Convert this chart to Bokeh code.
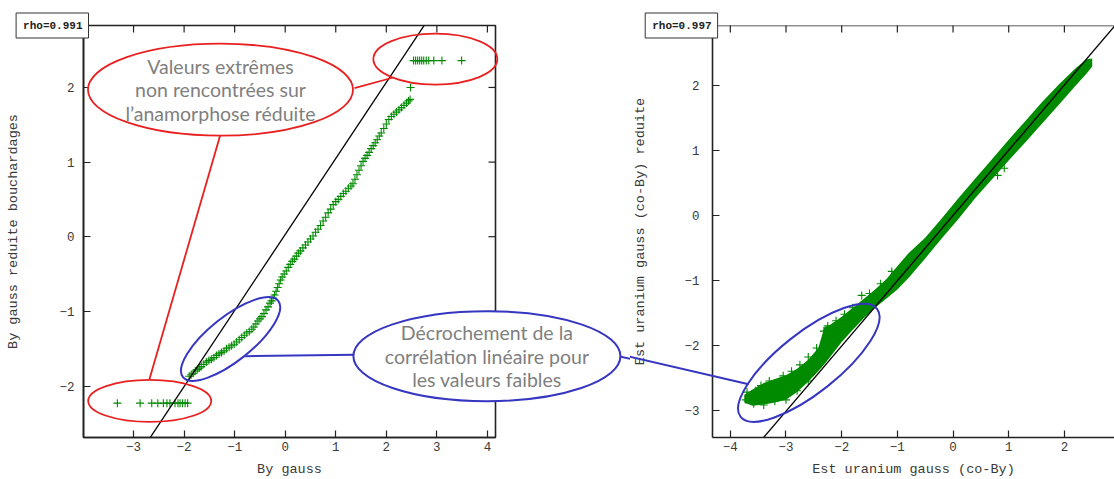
import math
from bokeh.plotting import figure
from bokeh.layouts import row
from bokeh.models import Range1d, FixedTicker, Span
from bokeh.embed import file_html
from bokeh.resources import INLINE
from bokeh.core.properties import value

# ---------------- data : left panel ----------------
left_xticks = [-3, -2, -1, 0, 1, 2, 3, 4]
left_yticks = [-2, -1, 0, 1, 2]
left_xlabel = "By gauss"
left_ylabel = "By gauss reduite bouchardages"
left_rho = "rho=0.991"

low_x = [-3.32, -2.87, -2.64, -2.52, -2.41, -2.34, -2.28, -2.18, -2.12, -2.08, -2.03, -1.98, -1.93]
low_y = [-2.23, -2.23, -2.23, -2.23, -2.23, -2.23, -2.23, -2.23, -2.23, -2.23, -2.23, -2.23, -2.23]

curve_x = [
    -1.90, -1.86, -1.82, -1.78, -1.74, -1.70, -1.66, -1.61, -1.56, -1.51,
    -1.46, -1.41, -1.36, -1.31, -1.26, -1.21, -1.16, -1.11, -1.06, -1.01,
    -0.96, -0.91, -0.86, -0.81, -0.76, -0.71, -0.66, -0.62, -0.58, -0.54,
    -0.50, -0.46, -0.42, -0.38, -0.34, -0.30, -0.27, -0.24, -0.21, -0.18,
    -0.15, -0.12, -0.09, -0.06, -0.02, 0.02, 0.06, 0.10, 0.14, 0.18,
    0.22, 0.26, 0.30, 0.35, 0.40, 0.45, 0.50, 0.55, 0.60, 0.65,
    0.70, 0.75, 0.80, 0.85, 0.90, 0.95, 1.00, 1.05, 1.10, 1.15,
    1.20, 1.25, 1.30, 1.34, 1.38, 1.42, 1.46, 1.50, 1.54, 1.58,
    1.62, 1.66, 1.70, 1.74, 1.78, 1.82, 1.86, 1.90, 1.95, 2.00,
    2.05, 2.10, 2.15, 2.20, 2.25, 2.30, 2.35, 2.40, 2.44, 2.47, 2.48]
curve_y = [
    -1.87, -1.85, -1.83, -1.80, -1.78, -1.76, -1.74, -1.71, -1.68, -1.66,
    -1.64, -1.62, -1.59, -1.57, -1.55, -1.53, -1.50, -1.48, -1.46, -1.44,
    -1.41, -1.38, -1.35, -1.32, -1.29, -1.27, -1.24, -1.21, -1.17, -1.13,
    -1.10, -1.07, -1.03, -0.98, -0.94, -0.89, -0.86, -0.82, -0.78, -0.73,
    -0.68, -0.63, -0.58, -0.54, -0.50, -0.46, -0.41, -0.37, -0.33, -0.30,
    -0.26, -0.22, -0.19, -0.15, -0.11, -0.07, -0.03, 0.01, 0.06, 0.10,
    0.15, 0.21, 0.26, 0.32, 0.37, 0.43, 0.47, 0.50, 0.54, 0.58,
    0.61, 0.65, 0.68, 0.71, 0.77, 0.83, 0.89, 0.95, 1.01, 1.05,
    1.09, 1.13, 1.18, 1.22, 1.26, 1.30, 1.35, 1.39, 1.45, 1.51,
    1.57, 1.61, 1.64, 1.67, 1.70, 1.73, 1.76, 1.79, 1.82, 1.84, 2.00]

high_x = [2.54, 2.58, 2.62, 2.66, 2.70, 2.74, 2.79, 2.84, 2.94, 3.10, 3.49]
high_y = [2.36, 2.36, 2.36, 2.36, 2.36, 2.36, 2.36, 2.36, 2.36, 2.36, 2.36]

left_fit_x = [-3.2, 3.2]
left_fit_y = [-3.23, 3.29]

# ---------------- data : right panel ----------------
right_xticks = [-4, -3, -2, -1, 0, 1, 2]
right_yticks = [-3, -2, -1, 0, 1, 2]
right_xlabel = "Est uranium gauss (co-By)"
right_ylabel = "Est uranium gauss (co-By) reduite"
right_rho = "rho=0.997"

band_x = [-3.75, -3.6, -3.4, -3.2, -3.0, -2.8, -2.6, -2.42, -2.31, -2.2, -2.0, -1.8, -1.6,
          -1.4, -1.2, -1.0, -0.8, -0.5, -0.2, 0.1, 0.4, 0.7, 1.0, 1.3, 1.6, 1.9, 2.2, 2.4, 2.5]
band_lo = [-2.88, -2.93, -2.91, -2.88, -2.84, -2.72, -2.56, -2.40, -2.29, -2.17, -1.95, -1.76,
           -1.58, -1.42, -1.28, -1.14, -0.96, -0.66, -0.35, -0.05, 0.27, 0.56, 0.85, 1.13,
           1.42, 1.71, 2.00, 2.19, 2.30]
band_hi = [-2.76, -2.68, -2.58, -2.52, -2.46, -2.36, -2.22, -2.04, -1.72, -1.68, -1.56, -1.42,
           -1.28, -1.14, -0.98, -0.78, -0.58, -0.34, -0.04, 0.27, 0.57, 0.87, 1.17, 1.46,
           1.75, 2.02, 2.27, 2.41, 2.42]

edge_x = [-3.70, -3.55, -3.45, -3.30, -3.18, -3.05, -2.90, -2.75, -2.60, -2.45, -2.32, -2.25,
          -2.10, -1.95, -1.80, -1.64, -1.50, -1.30, -1.10, -3.72, -3.58, -3.40, -3.20, -3.00,
          -2.80, -2.60, 0.92, 0.80]
edge_y = [-2.72, -2.70, -2.62, -2.55, -2.58, -2.47, -2.40, -2.30, -2.18, -2.04, -1.78, -1.70,
          -1.62, -1.52, -1.42, -1.23, -1.20, -1.05, -0.86, -2.84, -2.90, -2.92, -2.86, -2.84,
          -2.70, -2.55, 0.73, 0.62]

right_fit_x = [-3.8, 3.2]
right_fit_y = [-3.82, 3.22]

# ---------------- annotation texts ----------------
red_text = "Valeurs extrêmes\nnon rencontrées sur\nl’anamorphose réduite"
blue_text = "Décrochement de la\ncorrélation linéaire pour\nles valeurs faibles"

GREEN = "#008a00"
RED = "#e82020"
BLUE = "#3636c0"
AX = "#222222"
TXT = "#3a3a3a"
NOTE = "#7f7f7f"
MONO = "Liberation Mono"
NOTE_FONT = "Lato"
NOTE_SIZE = "19.5px"


def style_axis(ax, standoff, label_standoff):
    ax.axis_line_color = AX
    ax.axis_line_width = 1.6
    ax.major_tick_in = 7
    ax.major_tick_out = 0
    ax.major_tick_line_color = AX
    ax.major_tick_line_width = 1.2
    ax.minor_tick_line_color = None
    ax.major_label_text_font = MONO
    ax.major_label_text_color = TXT
    ax.major_label_text_font_size = "12.5px"
    ax.major_label_standoff = standoff
    ax.axis_label_standoff = label_standoff
    ax.axis_label_text_font = MONO
    ax.axis_label_text_font_size = "13.5px"
    ax.axis_label_text_font_style = "normal"
    ax.axis_label_text_color = TXT


def make_fig(width, xr, yr, mb_left, mb_right):
    p = figure(width=width, height=479, output_backend="svg", toolbar_location=None,
               x_range=Range1d(*xr), y_range=Range1d(*yr),
               min_border_left=mb_left, min_border_right=mb_right,
               min_border_top=25, min_border_bottom=42,
               background_fill_color="white", border_fill_color="white")
    p.outline_line_color = None
    p.grid.visible = False
    return p


def mirror_ticks_top(p, ticks, ytop):
    p.ray(x=ticks, y=[ytop for _ in ticks], length=7, length_units="screen",
          angle=-math.pi / 2, line_color=AX, line_width=1.2, level="overlay")


def mirror_ticks_right(p, ticks, xright):
    p.ray(x=[xright for _ in ticks], y=ticks, length=7, length_units="screen",
          angle=math.pi, line_color=AX, line_width=1.2, level="overlay")


def rho_box(p, xr, yr, txt):
    p.text(x=[xr[0] + 0.02], y=[yr[1]], text=[txt], x_offset=4, text_align="right",
           text_baseline="middle", text_font=value(MONO), text_font_size="11px",
           text_font_style="bold", text_color="#222222", background_fill_color="white",
           border_line_color="#333333", border_line_width=1, padding=(7, 6, 7, 6),
           level="overlay")


# ================= LEFT PANEL =================
L_XR = (-3.99, 4.16)
L_YR = (-2.69, 2.83)
p1 = make_fig(630, L_XR, L_YR, 83, 135)
p1.outline_line_color = AX
p1.outline_line_width = 1.6
p1.xaxis.ticker = FixedTicker(ticks=left_xticks)
p1.yaxis.ticker = FixedTicker(ticks=left_yticks)
p1.xaxis.axis_label = left_xlabel
p1.yaxis.axis_label = left_ylabel
style_axis(p1.xaxis[0], 4, 8)
style_axis(p1.yaxis[0], 9, 35)
mirror_ticks_top(p1, left_xticks, L_YR[1])
mirror_ticks_right(p1, left_yticks, L_XR[1])

p1.scatter(low_x, low_y, marker="cross", size=8, line_color=GREEN, line_width=1.1)
p1.scatter(curve_x, curve_y, marker="cross", size=8, line_color=GREEN, line_width=1.1)
p1.scatter(high_x, high_y, marker="cross", size=8, line_color=GREEN, line_width=1.1)
p1.line(left_fit_x, left_fit_y, line_color="black", line_width=1.3)

# callouts (positions in the left panel's data units)
p1.segment(x0=[1.37, -1.29], y0=[1.99, 1.35], x1=[2.12, -2.69], y1=[2.13, -1.92],
           line_color=RED, line_width=1.8, level="overlay")
p1.ellipse(x=[-1.28], y=[1.97], width=[265], height=[92], width_units="screen",
           height_units="screen", fill_color="white", line_color=RED, line_width=1.8,
           level="overlay")
p1.ellipse(x=[2.97, -2.68], y=[2.38, -2.20], width=[124, 123], height=[51, 42],
           width_units="screen", height_units="screen", fill_color=None,
           line_color=RED, line_width=1.8, level="overlay")
p1.text(x=[-1.28], y=[1.97], text=[red_text], text_font=value(NOTE_FONT),
        text_font_size=NOTE_SIZE, text_color=NOTE, text_align="center",
        text_baseline="middle", text_line_height=1.02, level="overlay")

p1.segment(x0=[-0.79, 6.55], y0=[-1.60, -1.595], x1=[1.36, 9.14], y1=[-1.58, -1.98],
           line_color=BLUE, line_width=2, level="overlay")
p1.ellipse(x=[-1.08], y=[-1.37], width=[122], height=[44], angle=[0.675],
           width_units="screen", height_units="screen", fill_color=None,
           line_color=BLUE, line_width=2, level="overlay")
p1.ellipse(x=[3.99], y=[-1.60], width=[267], height=[90], width_units="screen",
           height_units="screen", fill_color="white", line_color=BLUE, line_width=2,
           level="overlay")
p1.text(x=[3.99], y=[-1.60], text=[blue_text], text_font=value(NOTE_FONT),
        text_font_size=NOTE_SIZE, text_color=NOTE, text_align="center",
        text_baseline="middle", text_line_height=1.02, level="overlay")

rho_box(p1, L_XR, L_YR, left_rho)

# ================= RIGHT PANEL =================
R_XR = (-4.32, 2.90)
R_YR = (-3.42, 2.93)
p2 = make_fig(484, R_XR, R_YR, 80, 0)
p2.xaxis.ticker = FixedTicker(ticks=right_xticks)
p2.yaxis.ticker = FixedTicker(ticks=right_yticks)
p2.xaxis.axis_label = right_xlabel
p2.yaxis.axis_label = right_ylabel
style_axis(p2.xaxis[0], 4, 8)
style_axis(p2.yaxis[0], 13, 33)
p2.add_layout(Span(location=R_YR[1], dimension="width", line_color=AX, line_width=1.6))
mirror_ticks_top(p2, right_xticks, R_YR[1])

p2.varea(x=band_x, y1=band_lo, y2=band_hi, fill_color=GREEN)
p2.scatter(edge_x, edge_y, marker="cross", size=8, line_color=GREEN, line_width=1.1)
p2.line(right_fit_x, right_fit_y, line_color="black", line_width=1.3)

p2.segment(x0=[-5.93], y0=[-2.15], x1=[-3.67], y1=[-2.60], line_color=BLUE,
           line_width=2, level="overlay")
p2.ellipse(x=[-2.59], y=[-2.27], width=[174], height=[60], angle=[0.67],
           width_units="screen", height_units="screen", fill_color=None,
           line_color=BLUE, line_width=2, level="overlay")

rho_box(p2, R_XR, R_YR, right_rho)

layout = row(p1, p2, spacing=0)
open("out.html", "w").write(file_html(layout, INLINE))
